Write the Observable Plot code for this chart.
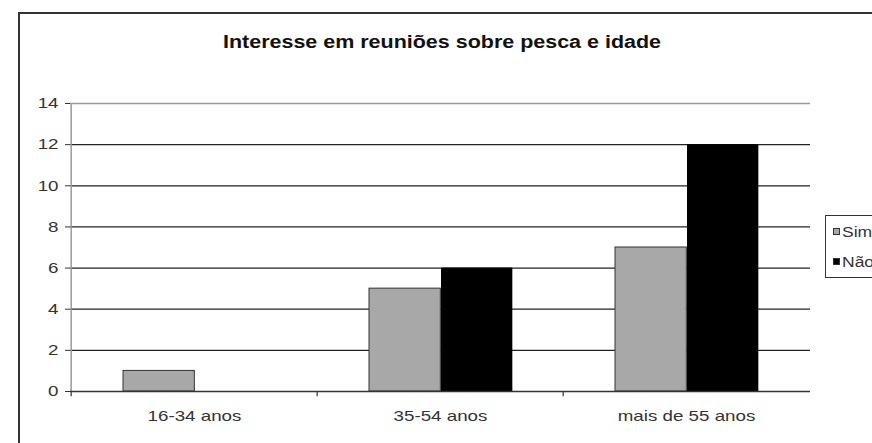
<!DOCTYPE html>
<html><head><meta charset="utf-8">
<script src="https://cdn.jsdelivr.net/npm/d3@7"></script>
<script src="https://cdn.jsdelivr.net/npm/@observablehq/plot@0.6"></script>
<style>
html,body{margin:0;padding:0;background:#fff;overflow:hidden;}
#chart{width:872px;height:443px;overflow:hidden;}
</style>
</head><body><div id="chart"></div>
<script>
const title = "Interesse em reuniões sobre pesca e idade";
const ages = ["16-34 anos", "35-54 anos", "mais de 55 anos"];
const seriesNames = ["Sim", "Não"];
const simValues = [1, 5, 7];
const naoValues = [0, 6, 12];
const yTicks = [0, 2, 4, 6, 8, 10, 12, 14];
const seriesColors = ["#a8a8a8", "#000000"];

const W = 872, H = 443;
const mL = 70, mR = 62, mT = 103, mB = 52;
const bw = (W - mL - mR) / ages.length;
const barW = 72, off = 52;

const rows = [];
ages.forEach((a, i) => {
  rows.push({age: a, series: seriesNames[0], value: simValues[i]});
  rows.push({age: a, series: seriesNames[1], value: naoValues[i]});
});
const simRows = rows.filter(r => r.series === seriesNames[0] && r.value > 0);
const naoRows = rows.filter(r => r.series === seriesNames[1] && r.value > 0);

const chart = Plot.plot({
  width: W, height: H,
  marginLeft: mL, marginRight: mR, marginTop: mT, marginBottom: mB,
  style: {fontFamily: "'Liberation Sans', Arial, sans-serif", fontSize: "15px", color: "#333", background: "white", overflow: "visible"},
  x: {domain: ages, padding: 0, label: null},
  y: {domain: [0, 14], label: null},
  marks: [
    Plot.ruleY(yTicks.filter(t => t > 0 && t < 14), {stroke: "#222", strokeWidth: 1.3}),
    Plot.ruleY([14], {stroke: "#9a9a9a", strokeWidth: 1.5}),
    Plot.ruleX(ages.slice(0, 1), {x: d => d, dx: -bw / 2, y1: 0, y2: 14, stroke: "#9a9a9a", strokeWidth: 1.5}),
    Plot.ruleX(ages, {x: d => d, dx: -bw / 2, y1: 0, y2: -0.25, stroke: "#333", strokeWidth: 1.2}),
    Plot.barY(simRows, {x: "age", y: "value", fill: seriesColors[0], stroke: "#333", strokeWidth: 1,
      insetLeft: off, insetRight: bw - off - barW}),
    Plot.barY(naoRows, {x: "age", y: "value", fill: seriesColors[1],
      insetLeft: off + barW, insetRight: bw - off - 2 * barW}),
    Plot.ruleY([0], {stroke: "#333", strokeWidth: 1.3}),
    Plot.axisY({ticks: yTicks, tickSize: 5, tickPadding: 7, stroke: "#333", fill: "#333", label: null}),
    Plot.axisX({tickSize: 0, tickPadding: 19, fill: "#333", label: null})
  ]
});
document.getElementById("chart").appendChild(chart);

const svg = d3.select(chart);
svg.insert("rect", ":first-child")
  .attr("x", 19).attr("y", 13).attr("width", 900).attr("height", 500)
  .attr("fill", "none").attr("stroke", "#333").attr("stroke-width", 2);

const k = 1.25;
chart.querySelectorAll("text").forEach(t => {
  const len = t.getComputedTextLength();
  if (len > 0) { t.setAttribute("textLength", len * k); t.setAttribute("lengthAdjust", "spacingAndGlyphs"); }
});

const tt = svg.append("text").attr("x", 442).attr("y", 48).attr("text-anchor", "middle")
  .attr("font-size", 18).attr("font-weight", "bold").attr("fill", "#111").text(title);
tt.attr("textLength", 438).attr("lengthAdjust", "spacingAndGlyphs");

const lg = svg.append("g").attr("text-anchor", "start");
lg.append("rect").attr("x", 825.5).attr("y", 215.5).attr("width", 100).attr("height", 62)
  .attr("fill", "white").attr("stroke", "#333").attr("stroke-width", 1);
seriesNames.forEach((s, i) => {
  const cy = 232 + i * 30;
  lg.append("rect").attr("x", 833.5).attr("y", cy - 3.5).attr("width", 6).attr("height", 6)
    .attr("fill", seriesColors[i]).attr("stroke", "#333");
  const tx = lg.append("text").attr("x", 842).attr("y", cy + 5).attr("font-size", 14)
    .attr("text-anchor", "start").attr("fill", "#333").text(s);
  const l = tx.node().getComputedTextLength();
  tx.attr("textLength", l * k).attr("lengthAdjust", "spacingAndGlyphs");
});
</script>
</body></html>
